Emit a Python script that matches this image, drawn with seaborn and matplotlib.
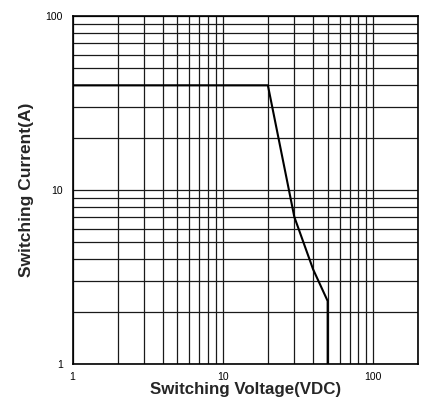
import numpy as np
import pandas as pd
import matplotlib
matplotlib.use('Agg')
import matplotlib.pyplot as plt
from matplotlib.ticker import LogLocator, FixedLocator, FixedFormatter, NullFormatter
import seaborn as sns

# 数据
voltage = [1, 20, 30, 40, 50, 50]
current = [40, 40, 7, 3.5, 2.3, 1]
x_ticks = [1, 10, 100]
y_ticks = [1, 10, 100]
x_tick_labels = ['1', '10', '100']
y_tick_labels = ['1', '10', '100']

sns.set_style('white')
plt.rcParams['font.family'] = ['Liberation Sans', 'DejaVu Sans']

df = pd.DataFrame({'Voltage': voltage, 'Current': current})

fig = plt.figure(figsize=(4.24, 4.03), dpi=100)
ax = fig.add_axes([0.171, 0.097, 0.815, 0.863])

sns.lineplot(data=df, x='Voltage', y='Current', sort=False, estimator=None,
             color='black', linewidth=1.5, ax=ax, zorder=3)

ax.set_xscale('log')
ax.set_yscale('log')
ax.set_xlim(1, 200)
ax.set_ylim(1, 100)

# 网格
ax.xaxis.set_major_locator(FixedLocator(x_ticks))
ax.yaxis.set_major_locator(FixedLocator(y_ticks))
ax.xaxis.set_major_formatter(FixedFormatter(x_tick_labels))
ax.yaxis.set_major_formatter(FixedFormatter(y_tick_labels))
ax.xaxis.set_minor_locator(LogLocator(base=10, subs=np.arange(2, 10)))
ax.yaxis.set_minor_locator(LogLocator(base=10, subs=np.arange(2, 10)))
ax.xaxis.set_minor_formatter(NullFormatter())
ax.yaxis.set_minor_formatter(NullFormatter())
ax.grid(True, which='both', color='#1a1a1a', linewidth=0.9)
ax.tick_params(which='both', length=0, labelsize=7.5, colors='black')
ax.tick_params(axis='x', pad=6)
ax.tick_params(axis='y', pad=7)

for s in ax.spines.values():
    s.set_color('black')
    s.set_linewidth(1.2)

ax.set_xlabel('Switching Voltage(VDC)', fontsize=12.2, fontweight='bold', labelpad=0)
ax.set_ylabel('Switching Current(A)', fontsize=12.5, fontweight='bold', labelpad=8)

fig.savefig('out.png', dpi=100)
